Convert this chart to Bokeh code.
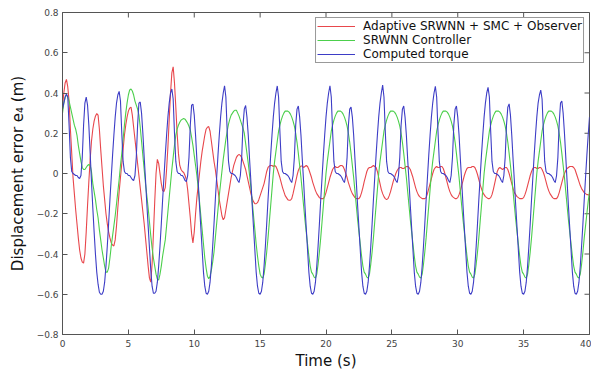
import numpy as np
from bokeh.plotting import figure
from bokeh.models import Range1d, FixedTicker
from bokeh.embed import file_html
from bokeh.resources import INLINE

# time axis (s), sampled every 0.1 s
time_s = np.round(np.arange(0, 401) * 0.1, 1)

x_ticks = [0, 5, 10, 15, 20, 25, 30, 35, 40]
y_ticks = [-0.8, -0.6, -0.4, -0.2, 0, 0.2, 0.4, 0.6, 0.8]

series_names = ["Adaptive SRWNN + SMC + Observer", "SRWNN Controller", "Computed torque"]

# Adaptive SRWNN + SMC + Observer (red)
adaptive = [
    0.33, 0.40, 0.45, 0.468, 0.43, 0.36, 0.22, 0.10, -0.02, -0.10,
    -0.18, -0.25, -0.32, -0.38, -0.42, -0.44, -0.445, -0.40, -0.29, -0.16,
    -0.04, 0.07, 0.16, 0.22, 0.26, 0.285, 0.298, 0.29, 0.22, 0.12,
    0.03, -0.06, -0.13, -0.20, -0.25, -0.29, -0.32, -0.345, -0.355, -0.36,
    -0.33, -0.26, -0.17, -0.09, -0.02, 0.05, 0.12, 0.19, 0.24, 0.28,
    0.31, 0.325, 0.33, 0.29, 0.23, 0.17, 0.11, 0.05, -0.01, -0.07,
    -0.13, -0.19, -0.25, -0.32, -0.39, -0.46, -0.52, -0.54, -0.45, -0.30,
    -0.14, 0.0, 0.07, 0.05, 0.0, -0.05, -0.085, -0.09, -0.07, 0.02,
    0.13, 0.27, 0.40, 0.50, 0.53, 0.45, 0.33, 0.20, 0.10, 0.04,
    0.02, 0.01, 0.005, -0.01, -0.03, -0.08, -0.15, -0.22, -0.30, -0.345,
    -0.29, -0.20, -0.12, -0.06, 0.0, 0.06, 0.11, 0.15, 0.19, 0.22,
    0.23, 0.233, 0.21, 0.16, 0.11, 0.06, 0.02, -0.03, -0.08, -0.13,
    -0.17, -0.21, -0.23, -0.22, -0.18, -0.14, -0.10, -0.06, -0.02, 0.01,
    0.04, 0.06, 0.08, 0.09, 0.094, 0.09, 0.08, 0.06, 0.04, 0.02,
    -0.01, -0.04, -0.07, -0.10, -0.125, -0.14, -0.15, -0.15, -0.145, -0.13,
    -0.11, -0.09, -0.07, -0.05, -0.02, 0.01, 0.03, 0.037, 0.04, 0.04,
    0.035, 0.04, 0.035, 0.02, 0.0, -0.02, -0.045, -0.07, -0.09, -0.11,
    -0.12, -0.13, -0.133, -0.133, -0.125, -0.10, -0.07, -0.04, -0.01, 0.015,
    0.03, 0.037, 0.037, 0.03, 0.035, 0.04, 0.035, 0.02, 0.0, -0.02,
    -0.045, -0.065, -0.085, -0.10, -0.11, -0.12, -0.125, -0.125, -0.125, -0.115,
    -0.095, -0.07, -0.045, -0.02, 0.0, 0.02, 0.03, 0.035, 0.03, 0.03,
    0.035, 0.04, 0.04, 0.035, 0.02, 0.0, -0.02, -0.045, -0.065, -0.085,
    -0.10, -0.11, -0.12, -0.125, -0.125, -0.125, -0.115, -0.095, -0.07, -0.04,
    -0.015, 0.01, 0.025, 0.03, 0.03, 0.035, 0.04, 0.035, 0.03, 0.01,
    -0.02, -0.05, -0.08, -0.10, -0.115, -0.125, -0.13, -0.125, -0.11, -0.09,
    -0.065, -0.04, -0.02, 0.0, 0.015, 0.025, 0.03, 0.03, 0.025, 0.025,
    0.03, 0.035, 0.035, 0.03, 0.02, 0.0, -0.02, -0.045, -0.07, -0.09,
    -0.105, -0.115, -0.12, -0.125, -0.125, -0.125, -0.12, -0.10, -0.075, -0.05,
    -0.025, 0.0, 0.02, 0.03, 0.035, 0.03, 0.03, 0.035, 0.035, 0.025,
    0.005, -0.02, -0.045, -0.07, -0.09, -0.105, -0.115, -0.12, -0.125, -0.125,
    -0.12, -0.105, -0.085, -0.06, -0.035, -0.01, 0.01, 0.025, 0.03, 0.03,
    0.03, 0.035, 0.035, 0.03, 0.015, -0.005, -0.03, -0.055, -0.075, -0.095,
    -0.105, -0.115, -0.12, -0.125, -0.125, -0.12, -0.105, -0.08, -0.05, -0.02,
    0.01, 0.025, 0.03, 0.025, 0.02, 0.025, 0.03, 0.03, 0.02, 0.0,
    -0.025, -0.05, -0.075, -0.095, -0.105, -0.115, -0.12, -0.125, -0.125, -0.125,
    -0.12, -0.105, -0.085, -0.06, -0.035, -0.01, 0.01, 0.025, 0.03, 0.03,
    0.025, 0.025, 0.03, 0.03, 0.02, 0.005, -0.015, -0.04, -0.065, -0.085,
    -0.10, -0.11, -0.12, -0.125, -0.125, -0.125, -0.115, -0.095, -0.07, -0.045,
    -0.02, 0.0, 0.015, 0.025, 0.03, 0.035, 0.035, 0.035, 0.03, 0.02,
    0.0, -0.02, -0.04, -0.06, -0.075, -0.085, -0.095, -0.10, -0.105, -0.105,
    -0.11,
]

# SRWNN Controller (green)
srwnn = [
    0.30, 0.35, 0.38, 0.39, 0.38, 0.36, 0.33, 0.30, 0.27, 0.24,
    0.22, 0.19, 0.14, 0.10, 0.06, 0.03, 0.02, 0.02, 0.03, 0.04,
    0.045, 0.04, 0.01, -0.05, -0.09, -0.13, -0.18, -0.22, -0.28, -0.33,
    -0.38, -0.42, -0.46, -0.49, -0.49, -0.47, -0.42, -0.36, -0.31, -0.26,
    -0.21, -0.15, -0.09, -0.03, 0.04, 0.10, 0.17, 0.24, 0.30, 0.35,
    0.39, 0.415, 0.42, 0.41, 0.39, 0.36, 0.34, 0.32, 0.29, 0.23,
    0.16, 0.09, 0.02, -0.05, -0.11, -0.17, -0.24, -0.31, -0.37, -0.42,
    -0.46, -0.50, -0.525, -0.53, -0.50, -0.46, -0.41, -0.37, -0.33, -0.26,
    -0.19, -0.12, -0.05, 0.02, 0.08, 0.14, 0.19, 0.22, 0.24, 0.255,
    0.265, 0.27, 0.273, 0.27, 0.26, 0.25, 0.235, 0.216, 0.18, 0.14,
    0.09, 0.04, -0.01, -0.07, -0.14, -0.21, -0.28, -0.35, -0.42, -0.47,
    -0.51, -0.523, -0.51, -0.48, -0.44, -0.39, -0.32, -0.25, -0.18, -0.11,
    -0.05, 0.01, 0.07, 0.12, 0.17, 0.21, 0.245, 0.27, 0.29, 0.30,
    0.31, 0.314, 0.314, 0.30, 0.285, 0.265, 0.245, 0.225, 0.20, 0.15,
    0.10, 0.05, -0.01, -0.07, -0.14, -0.21, -0.28, -0.35, -0.41, -0.46,
    -0.50, -0.515, -0.52, -0.50, -0.45, -0.39, -0.32, -0.24, -0.16, -0.08,
    0.00, 0.06, 0.11, 0.16, 0.21, 0.24, 0.265, 0.285, 0.30, 0.31,
    0.31, 0.31, 0.305, 0.295, 0.28, 0.26, 0.235, 0.20, 0.155, 0.10,
    0.04, -0.02, -0.09, -0.16, -0.23, -0.29, -0.35, -0.41, -0.46, -0.49,
    -0.50, -0.515, -0.52, -0.50, -0.45, -0.39, -0.32, -0.24, -0.16, -0.08,
    0.00, 0.06, 0.11, 0.16, 0.21, 0.24, 0.265, 0.285, 0.30, 0.31,
    0.31, 0.31, 0.305, 0.295, 0.28, 0.26, 0.235, 0.20, 0.155, 0.10,
    0.04, -0.02, -0.09, -0.16, -0.23, -0.29, -0.35, -0.41, -0.46, -0.49,
    -0.50, -0.515, -0.52, -0.50, -0.45, -0.39, -0.32, -0.24, -0.16, -0.08,
    0.00, 0.06, 0.11, 0.16, 0.21, 0.24, 0.265, 0.285, 0.30, 0.31,
    0.31, 0.31, 0.305, 0.295, 0.28, 0.26, 0.235, 0.20, 0.155, 0.10,
    0.04, -0.02, -0.09, -0.16, -0.23, -0.29, -0.35, -0.41, -0.46, -0.49,
    -0.50, -0.515, -0.52, -0.50, -0.45, -0.39, -0.32, -0.24, -0.16, -0.08,
    0.00, 0.06, 0.11, 0.16, 0.21, 0.24, 0.265, 0.285, 0.30, 0.31,
    0.31, 0.31, 0.305, 0.295, 0.28, 0.26, 0.235, 0.20, 0.155, 0.10,
    0.04, -0.02, -0.09, -0.16, -0.23, -0.29, -0.35, -0.41, -0.46, -0.49,
    -0.50, -0.515, -0.52, -0.50, -0.45, -0.39, -0.32, -0.24, -0.16, -0.08,
    0.00, 0.06, 0.11, 0.16, 0.21, 0.24, 0.265, 0.285, 0.30, 0.31,
    0.31, 0.31, 0.305, 0.295, 0.28, 0.26, 0.235, 0.20, 0.155, 0.10,
    0.04, -0.02, -0.09, -0.16, -0.23, -0.29, -0.35, -0.41, -0.46, -0.49,
    -0.50, -0.515, -0.52, -0.50, -0.45, -0.39, -0.32, -0.24, -0.16, -0.08,
    0.00, 0.06, 0.11, 0.16, 0.21, 0.24, 0.265, 0.285, 0.30, 0.31,
    0.31, 0.31, 0.305, 0.295, 0.28, 0.26, 0.235, 0.20, 0.155, 0.10,
    0.04, -0.02, -0.09, -0.16, -0.23, -0.29, -0.35, -0.41, -0.46, -0.49,
    -0.50, -0.515, -0.52, -0.50, -0.45, -0.39, -0.32, -0.26, -0.20, -0.14,
    -0.09,
]

# Computed torque (blue)
computed = [
    0.32, 0.35, 0.38, 0.395, 0.38, 0.24, 0.08, 0.01, 0.0, -0.005,
    -0.01, -0.01, -0.02, -0.025, -0.01, 0.08, 0.24, 0.35, 0.38, 0.34,
    0.24, 0.10, -0.04, -0.17, -0.29, -0.40, -0.49, -0.55, -0.59, -0.60,
    -0.60, -0.585, -0.54, -0.46, -0.36, -0.25, -0.13, -0.02, 0.09, 0.19,
    0.28, 0.35, 0.39, 0.408, 0.36, 0.20, 0.06, 0.01, 0.0, 0.0,
    -0.01, -0.01, -0.02, -0.03, -0.035, -0.01, 0.08, 0.24, 0.35, 0.355,
    0.30, 0.20, 0.08, -0.03, -0.15, -0.26, -0.37, -0.48, -0.56, -0.595,
    -0.595, -0.585, -0.54, -0.46, -0.36, -0.25, -0.13, -0.02, 0.09, 0.19,
    0.28, 0.35, 0.40, 0.42, 0.37, 0.20, 0.06, 0.01, 0.0, 0.0,
    -0.01, -0.01, -0.02, -0.035, -0.04, -0.01, 0.08, 0.24, 0.34, 0.345,
    0.29, 0.19, 0.07, -0.04, -0.16, -0.27, -0.38, -0.49, -0.56, -0.595,
    -0.60, -0.585, -0.54, -0.46, -0.36, -0.25, -0.13, -0.02, 0.09, 0.19,
    0.28, 0.35, 0.40, 0.436, 0.38, 0.21, 0.06, 0.01, 0.0, 0.0,
    -0.005, -0.01, -0.02, -0.035, -0.045, -0.01, 0.08, 0.24, 0.32, 0.338,
    0.28, 0.19, 0.07, -0.04, -0.16, -0.27, -0.38, -0.49, -0.56, -0.595,
    -0.60, -0.585, -0.54, -0.46, -0.36, -0.25, -0.13, -0.02, 0.09, 0.19,
    0.28, 0.35, 0.40, 0.435, 0.38, 0.21, 0.06, 0.01, 0.0, 0.0,
    -0.005, -0.01, -0.02, -0.035, -0.045, -0.01, 0.08, 0.24, 0.32, 0.335,
    0.28, 0.19, 0.07, -0.04, -0.16, -0.27, -0.38, -0.49, -0.56, -0.595,
    -0.60, -0.585, -0.54, -0.46, -0.36, -0.25, -0.13, -0.02, 0.09, 0.19,
    0.28, 0.35, 0.40, 0.436, 0.38, 0.21, 0.06, 0.01, 0.0, 0.0,
    -0.005, -0.01, -0.02, -0.035, -0.045, -0.01, 0.08, 0.24, 0.32, 0.33,
    0.28, 0.19, 0.07, -0.04, -0.16, -0.27, -0.38, -0.49, -0.56, -0.595,
    -0.60, -0.585, -0.54, -0.46, -0.36, -0.25, -0.13, -0.02, 0.09, 0.19,
    0.28, 0.35, 0.40, 0.439, 0.38, 0.21, 0.06, 0.01, 0.0, 0.0,
    -0.005, -0.01, -0.02, -0.035, -0.045, -0.01, 0.08, 0.24, 0.32, 0.335,
    0.28, 0.19, 0.07, -0.04, -0.16, -0.27, -0.38, -0.49, -0.56, -0.595,
    -0.60, -0.585, -0.54, -0.46, -0.36, -0.25, -0.13, -0.02, 0.09, 0.19,
    0.28, 0.35, 0.40, 0.433, 0.38, 0.21, 0.06, 0.01, 0.0, 0.0,
    -0.005, -0.01, -0.02, -0.035, -0.045, -0.01, 0.08, 0.24, 0.32, 0.335,
    0.28, 0.19, 0.07, -0.04, -0.16, -0.27, -0.38, -0.49, -0.56, -0.595,
    -0.60, -0.585, -0.54, -0.46, -0.36, -0.25, -0.13, -0.02, 0.09, 0.19,
    0.28, 0.35, 0.40, 0.428, 0.38, 0.21, 0.06, 0.01, 0.0, 0.0,
    -0.005, -0.01, -0.02, -0.035, -0.045, -0.01, 0.08, 0.24, 0.33, 0.346,
    0.29, 0.19, 0.07, -0.04, -0.16, -0.27, -0.38, -0.49, -0.56, -0.595,
    -0.60, -0.585, -0.54, -0.46, -0.36, -0.25, -0.13, -0.02, 0.09, 0.19,
    0.28, 0.35, 0.39, 0.414, 0.37, 0.21, 0.06, 0.01, 0.0, 0.0,
    -0.005, -0.01, -0.02, -0.035, -0.045, -0.01, 0.08, 0.25, 0.35, 0.36,
    0.30, 0.20, 0.08, -0.04, -0.16, -0.27, -0.38, -0.49, -0.56, -0.595,
    -0.60, -0.585, -0.54, -0.46, -0.36, -0.25, -0.13, -0.02, 0.09, 0.19,
    0.28,
]

colors = ["#e8474c", "#4ccf4c", "#3d3dc6"]
FONT = "DejaVu Sans"
AXIS_GREY = "#555555"

p = figure(width=591, height=372,
           x_range=Range1d(0, 40), y_range=Range1d(-0.8, 0.8),
           output_backend="svg", toolbar_location=None,
           min_border_left=62, min_border_right=2,
           min_border_top=12, min_border_bottom=30)
p.grid.visible = False
p.background_fill_color = "white"
p.border_fill_color = "white"
p.outline_line_color = AXIS_GREY
p.outline_line_width = 1

for ax, ticks in ((p.xaxis[0], x_ticks), (p.yaxis[0], y_ticks)):
    ax.ticker = FixedTicker(ticks=ticks)
    ax.major_tick_in = 5
    ax.major_tick_out = 0
    ax.minor_tick_in = 0
    ax.minor_tick_out = 0
    ax.axis_line_color = AXIS_GREY
    ax.major_tick_line_color = AXIS_GREY
    ax.major_label_text_font = FONT
    ax.major_label_text_font_size = "9px"
    ax.major_label_text_color = "#444444"
    ax.major_label_standoff = 4
    ax.axis_label_text_font = FONT
    ax.axis_label_text_font_size = "15px"
    ax.axis_label_text_font_style = "normal"
    ax.axis_label_text_color = "#111111"

p.xaxis[0].axis_label = "Time (s)"
p.xaxis[0].axis_label_standoff = 2
p.xaxis[0].major_label_standoff = 5
p.yaxis[0].axis_label = "Displacement error e\u2084 (m)"
p.yaxis[0].axis_label_standoff = 7

# inward tick marks on the top and right edges of the box (no labels)
p.ray(x=x_ticks, y=[y_ticks[-1]] * len(x_ticks), length=5, length_units="screen",
      angle=-np.pi / 2, line_color=AXIS_GREY, line_width=1)
p.ray(x=[x_ticks[-1]] * len(y_ticks), y=y_ticks, length=5, length_units="screen",
      angle=np.pi, line_color=AXIS_GREY, line_width=1)

for name, vals, col in zip(series_names, [adaptive, srwnn, computed], colors):
    p.line(time_s, vals, line_color=col, line_width=1.1, legend_label=name)

lg = p.legend[0]
lg.location = "top_right"
lg.margin = 5
lg.padding = 1
lg.spacing = 0
lg.label_height = 12
lg.glyph_height = 12
lg.glyph_width = 38
lg.label_standoff = 8
lg.label_text_font = FONT
lg.label_text_font_size = "12px"
lg.label_text_color = "#111111"
lg.border_line_color = "#333333"
lg.border_line_width = 1
lg.background_fill_color = "white"
lg.background_fill_alpha = 1.0

open("out.html", "w").write(file_html(p, INLINE))
